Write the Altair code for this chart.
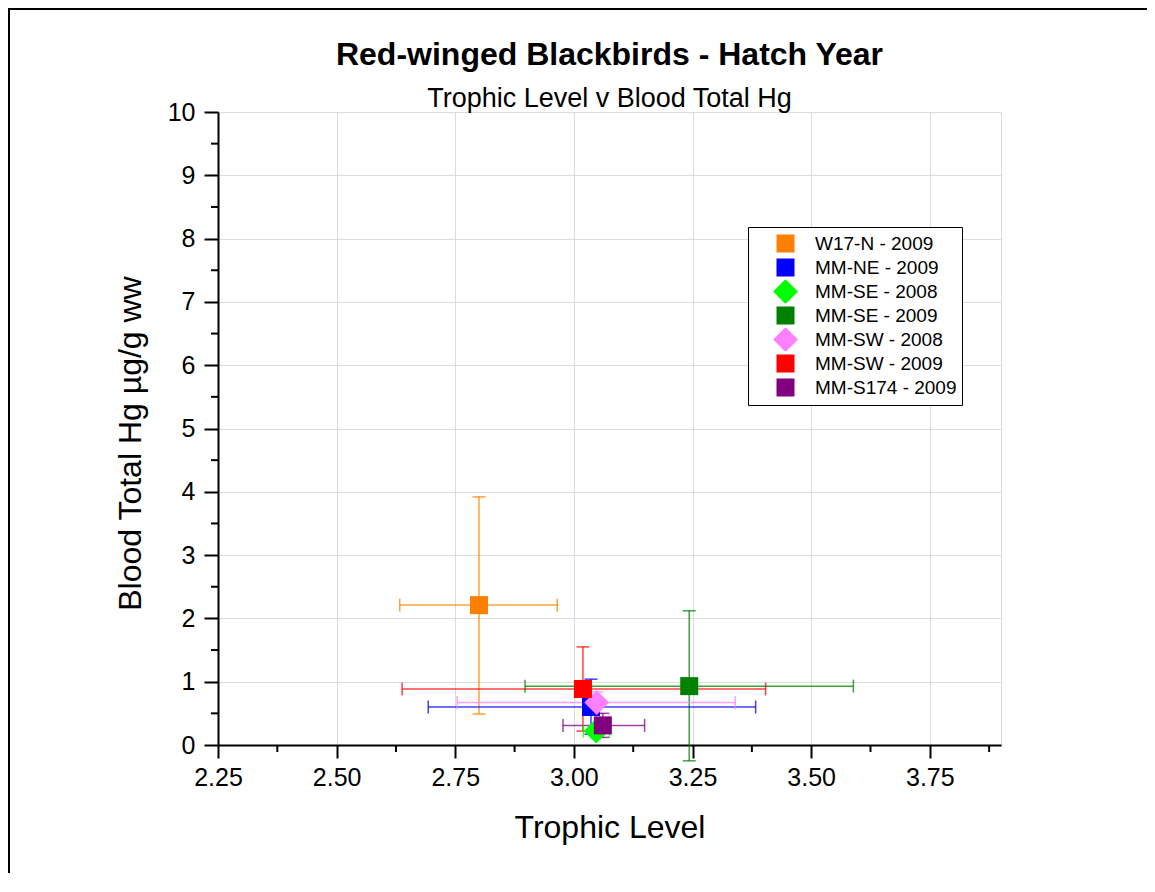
import altair as alt
import pandas as pd

# ---- data ----
series = ["W17-N - 2009", "MM-NE - 2009", "MM-SE - 2008", "MM-SE - 2009",
          "MM-SW - 2008", "MM-SW - 2009", "MM-S174 - 2009"]
colors = ["#FF8000", "#0000FF", "#00FF00", "#008000", "#FF80FF", "#FF0000", "#800080"]
shapes = ["square", "square", "diamond", "square", "diamond", "square", "square"]
sizes = [324, 324, 620, 324, 620, 324, 324]

trophic = [2.80, 3.036, 3.047, 3.243, 3.048, 3.019, 3.061]
trophic_lo = [2.633, 2.693, 3.020, 2.897, 2.754, 2.638, 2.977]
trophic_hi = [2.965, 3.383, 3.075, 3.589, 3.340, 3.404, 3.149]
hg = [2.21, 0.60, 0.22, 0.93, 0.67, 0.885, 0.31]
hg_lo = [0.49, 0.17, 0.12, -0.25, 0.50, 0.22, 0.12]
hg_hi = [3.92, 1.04, 0.30, 2.12, 0.84, 1.55, 0.50]

x_ticks = [2.25, 2.50, 2.75, 3.00, 3.25, 3.50, 3.75]
x_minor = [2.375, 2.625, 2.875, 3.125, 3.375, 3.625, 3.875]
y_ticks = [0, 1, 2, 3, 4, 5, 6, 7, 8, 9, 10]
y_minor = [0.5, 1.5, 2.5, 3.5, 4.5, 5.5, 6.5, 7.5, 8.5, 9.5]

FONT = "Liberation Sans"
W, H = 783, 633

df = pd.DataFrame({
    "series": series, "tl": trophic, "tl_lo": trophic_lo, "tl_hi": trophic_hi,
    "hg": hg, "hg_lo": hg_lo, "hg_hi": hg_hi,
})

xs = alt.Scale(domain=[2.25, 3.9], nice=False, zero=False)
ys = alt.Scale(domain=[0, 10], nice=False, zero=False)

x_axis = alt.Axis(values=x_ticks, format=".2f", title="Trophic Level",
                  titleFontSize=32, titleFont=FONT, titleFontWeight="normal",
                  labelFontSize=25, labelFont=FONT, labelPadding=7, labelFlush=False,
                  tickSize=13, tickWidth=2, domainWidth=2, domainColor="black",
                  tickColor="black", labelColor="black", titleColor="black",
                  titlePadding=22, grid=True, gridColor="#dcdcdc", gridWidth=1)
y_axis = alt.Axis(values=y_ticks, format="d", title="Blood Total Hg µg/g ww",
                  titleFontSize=32, titleFont=FONT, titleFontWeight="normal",
                  labelFontSize=25, labelFont=FONT, labelPadding=9, labelFlush=False,
                  tickSize=14, tickWidth=2, domainWidth=2, domainColor="black",
                  tickColor="black", labelColor="black", titleColor="black",
                  titlePadding=20, titleY=331,
                  grid=True, gridColor="#dcdcdc", gridWidth=1)

legend = alt.Legend(title=None, orient="none", legendX=530, legendY=115,
                    strokeColor="black", fillColor="white", padding=5,
                    labelFont=FONT, labelFontSize=19, labelColor="black",
                    symbolOffset=20, labelOffset=17, symbolOpacity=1,
                    rowPadding=0, clipHeight=23.2, symbolStrokeWidth=0)

color_enc = alt.Color("series:N", scale=alt.Scale(domain=series, range=colors),
                      sort=series, legend=legend)

base = alt.Chart(df)

v_err = base.mark_rule(strokeWidth=1.5, opacity=0.75).encode(
    x=alt.X("tl:Q", scale=xs, axis=x_axis),
    y=alt.Y("hg_lo:Q", scale=ys, axis=y_axis),
    y2="hg_hi:Q",
    color=color_enc,
)
h_err = base.mark_rule(strokeWidth=1.5, opacity=0.75).encode(
    x=alt.X("tl_lo:Q", scale=xs),
    x2="tl_hi:Q",
    y=alt.Y("hg:Q", scale=ys),
    color=color_enc,
)
v_caps = base.transform_fold(["hg_lo", "hg_hi"], as_=["k", "yv"]).mark_tick(
    orient="horizontal", size=13, thickness=1.5, opacity=0.75).encode(
    x=alt.X("tl:Q", scale=xs),
    y=alt.Y("yv:Q", scale=ys),
    color=color_enc,
)
h_caps = base.transform_fold(["tl_lo", "tl_hi"], as_=["k", "xv"]).mark_tick(
    orient="vertical", size=13, thickness=1.5, opacity=0.75).encode(
    x=alt.X("xv:Q", scale=xs),
    y=alt.Y("hg:Q", scale=ys),
    color=color_enc,
)

points = base.mark_point(filled=True, opacity=1).encode(
    x=alt.X("tl:Q", scale=xs),
    y=alt.Y("hg:Q", scale=ys),
    color=color_enc,
    shape=alt.Shape("series:N", scale=alt.Scale(domain=series, range=shapes),
                    sort=series, legend=legend),
    size=alt.Size("series:N", scale=alt.Scale(type="ordinal", domain=series, range=sizes),
                  sort=series, legend=legend),
)

xm = alt.Chart(pd.DataFrame({"v": x_minor})).mark_rule(color="black", strokeWidth=2).encode(
    x=alt.X("v:Q", scale=xs), y=alt.value(H), y2=alt.value(H + 7))
ym = alt.Chart(pd.DataFrame({"v": y_minor})).mark_rule(color="black", strokeWidth=2).encode(
    y=alt.Y("v:Q", scale=ys), x=alt.value(-7), x2=alt.value(0))

one = pd.DataFrame({"a": [0]})
frame_top = alt.Chart(one).mark_rule(color="black", strokeWidth=2).encode(
    x=alt.value(-210), x2=alt.value(960), y=alt.value(-103))
frame_left = alt.Chart(one).mark_rule(color="black", strokeWidth=2).encode(
    x=alt.value(-209), y=alt.value(-104), y2=alt.value(800))

chart = alt.layer(frame_top, frame_left, v_err, h_err, v_caps, h_caps, xm, ym, points).properties(
    width=W, height=H,
    title=alt.TitleParams(
        text="Red-winged Blackbirds - Hatch Year",
        subtitle="Trophic Level v Blood Total Hg",
        font=FONT, fontSize=32, fontWeight="bold", color="black",
        subtitleFont=FONT, subtitleFontSize=27, subtitleColor="black",
        subtitlePadding=14, anchor="middle", frame="group", offset=-106),
    autosize=alt.AutoSizeParams(type="none"),
    padding={"left": 210, "top": 104, "right": 146, "bottom": 128},
).configure_view(stroke=None).configure(background="white")

chart.save("out.html", embed_options={"renderer": "svg", "actions": False})
